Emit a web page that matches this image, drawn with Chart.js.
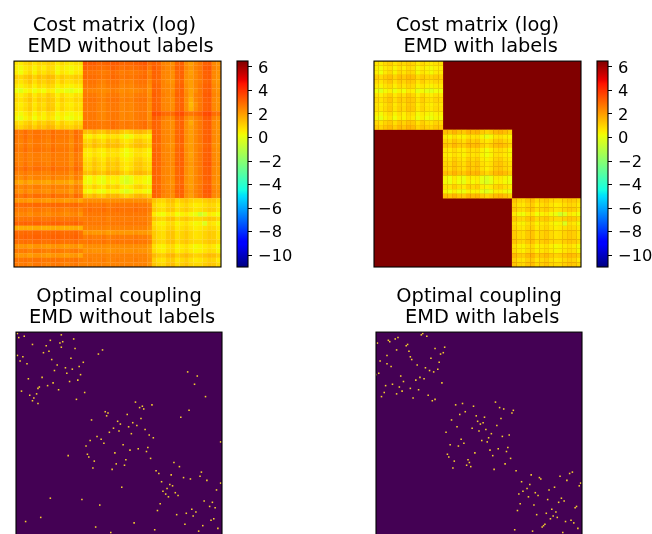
<!DOCTYPE html>
<html><head><meta charset="utf-8">
<script src="https://cdn.jsdelivr.net/npm/chart.js@4"></script>
<style>
html,body{margin:0;padding:0;width:652px;height:534px;overflow:hidden;background:#fff}
canvas{position:absolute}
</style></head><body>
<canvas id="h1" style="left:0;top:0" width="232" height="280"></canvas>
<canvas id="c1" style="left:230px;top:0" width="72" height="280"></canvas>
<canvas id="h2" style="left:360px;top:0" width="232" height="280"></canvas>
<canvas id="c2" style="left:590px;top:0" width="62" height="280"></canvas>
<canvas id="p1" style="left:0;top:271px" width="232" height="280"></canvas>
<canvas id="p2" style="left:360px;top:271px" width="232" height="280"></canvas>
<script>
const titleCostA=['Cost matrix (log) ',' EMD without labels'];
const titleCostB=['Cost matrix (log)',' EMD with labels'];
const titleCoupA=['Optimal coupling',' EMD without labels'];
const titleCoupB=['Optimal coupling',' EMD with labels'];
const colorbarTicks=[-10,-8,-6,-4,-2,0,2,4,6];
const colorRange=[-11,6.5];
const sampleCount=150;
// log cost, tenths, coarse 45x45 grid
const costRows=[
[7,6,9,11,7,10,9,11,10,6,9,7,6,8,8,33,32,32,30,30,31,32,32,30,30,30,31,32,33,29,31,30,25,24,23,30,31,23,20,24,27,31,32,24,22],
[5,3,6,8,4,8,5,9,8,3,6,4,3,5,5,31,30,30,29,28,29,31,30,28,29,28,29,30,31,27,32,30,26,24,24,31,31,24,21,25,27,32,33,25,23],
[5,2,6,9,4,9,7,10,9,3,7,5,3,6,6,29,28,28,27,26,27,29,28,26,27,26,27,28,29,25,31,30,25,24,23,30,31,23,20,24,27,31,32,24,22],
[11,9,12,14,10,14,12,15,14,9,12,10,10,12,11,30,29,29,28,27,28,30,29,27,28,27,28,29,30,26,31,30,25,24,23,30,31,23,21,24,27,31,32,24,22],
[9,7,10,13,8,12,10,13,12,7,11,8,8,10,9,28,28,28,26,25,27,28,28,25,26,25,27,28,28,24,30,29,25,23,22,29,30,22,20,24,26,30,31,23,21],
[6,4,7,9,5,9,7,10,9,4,7,5,4,6,6,27,27,27,25,24,26,27,27,24,25,24,26,27,27,23,31,30,25,24,23,30,31,23,20,24,27,31,32,24,22],
[2,-1,3,5,1,4,2,6,5,0,3,0,-1,2,2,26,25,25,24,23,24,26,25,23,24,23,24,25,26,22,31,30,25,24,23,30,31,23,19,23,27,31,32,24,22],
[7,5,8,11,6,10,8,12,10,5,9,6,5,8,7,27,27,27,25,24,26,27,27,24,25,24,26,27,27,23,32,30,26,24,24,31,31,24,19,25,27,32,33,25,23],
[9,7,10,13,8,12,10,13,12,7,11,8,7,10,9,28,28,28,26,25,27,28,28,25,26,25,27,28,28,24,31,30,25,24,23,30,31,23,17,24,27,31,32,24,22],
[7,5,8,11,6,10,8,12,11,5,9,6,5,8,7,27,27,27,25,24,26,27,27,24,25,24,26,27,27,23,31,30,25,24,23,30,31,23,15,22,27,31,32,24,22],
[8,6,9,12,7,11,9,13,12,6,10,7,6,9,8,27,27,27,25,24,26,27,27,24,25,24,26,27,27,23,31,30,25,24,23,30,31,23,16,23,27,31,32,24,22],
[5,3,6,9,4,8,5,9,8,3,6,4,3,5,5,27,27,27,25,24,26,27,27,24,25,24,26,27,27,23,35,34,30,29,29,34,35,29,27,29,31,35,36,29,28],
[3,0,4,7,2,6,4,8,6,1,5,2,1,4,3,27,27,27,25,24,26,27,27,24,25,24,26,27,27,23,32,30,26,24,24,31,31,24,21,25,27,32,33,25,23],
[9,7,10,12,8,12,10,13,12,7,11,8,7,10,9,29,28,28,27,26,27,29,28,26,27,26,27,28,29,25,31,30,25,24,23,30,31,23,18,24,27,31,32,24,22],
[12,10,13,15,11,15,13,16,15,10,13,11,10,13,12,29,28,28,27,26,27,29,28,26,27,26,27,28,29,25,31,30,25,24,23,30,31,23,20,24,27,31,32,24,22],
[28,26,29,26,28,28,27,26,29,27,27,27,24,29,27,14,13,16,13,12,16,15,16,12,10,12,15,16,14,11,31,30,25,24,23,30,31,23,20,24,27,31,32,24,22],
[28,26,29,26,28,28,27,26,29,27,27,27,24,29,27,6,4,8,5,4,8,7,8,4,0,3,7,8,6,4,31,30,25,24,23,30,31,23,20,24,27,31,32,24,22],
[27,25,28,25,27,27,26,25,28,26,26,26,23,28,26,10,9,13,10,8,13,11,13,8,6,8,12,13,10,8,31,30,25,24,23,30,31,23,20,24,27,31,32,24,22],
[27,25,28,25,27,27,26,25,28,26,26,26,23,28,26,13,11,15,12,11,15,14,15,11,8,11,14,15,13,10,30,29,25,23,22,29,30,22,20,24,26,30,31,23,21],
[28,26,29,26,28,28,27,26,29,27,27,27,24,29,27,7,6,9,6,5,9,8,9,5,2,5,8,9,7,4,31,30,25,24,23,30,31,23,20,24,27,31,32,24,22],
[26,25,27,25,26,26,25,25,27,26,26,26,23,27,25,6,5,8,6,4,8,7,8,4,2,4,8,8,6,4,31,30,25,24,23,30,31,23,19,24,27,31,32,24,22],
[26,25,27,25,26,26,25,25,27,26,26,26,23,27,25,8,7,11,8,6,11,9,11,6,4,6,10,11,8,6,31,30,25,24,23,30,31,23,20,24,27,31,32,24,22],
[27,25,28,25,27,27,26,25,28,26,26,26,23,28,26,10,9,13,10,8,13,11,13,8,6,8,12,13,10,8,32,30,26,24,24,31,31,24,21,25,27,32,33,25,23],
[29,27,30,27,29,29,28,27,30,28,28,28,25,30,28,10,9,13,10,8,13,11,13,8,5,8,12,13,10,8,31,30,25,24,23,30,31,23,20,24,27,31,32,24,22],
[26,25,27,25,26,26,25,25,27,26,26,26,23,27,25,14,13,16,13,12,16,15,16,12,9,12,15,16,14,11,31,30,25,24,23,30,31,23,20,24,27,31,32,24,22],
[25,23,26,23,25,25,24,23,26,24,24,24,21,26,24,4,2,6,3,1,6,5,6,1,-2,1,6,6,4,2,31,30,25,24,23,30,31,23,20,24,27,31,32,24,22],
[20,18,21,18,20,20,19,18,21,19,19,19,16,21,19,3,1,5,2,0,5,3,5,0,-3,0,4,5,3,1,30,29,25,23,22,29,30,22,20,24,26,30,31,23,21],
[26,24,26,24,26,26,24,24,26,25,25,25,22,26,24,8,7,11,8,6,11,9,11,6,4,6,10,11,8,6,31,30,25,24,23,30,31,23,20,24,27,31,32,24,22],
[24,22,25,22,24,24,23,22,25,23,23,23,20,25,23,4,2,5,2,1,5,4,5,1,-2,1,5,5,3,1,32,30,26,24,24,31,31,24,21,25,27,32,33,25,23],
[29,27,30,27,29,29,28,27,30,28,28,28,25,30,28,14,13,16,13,12,16,15,16,12,10,12,15,16,14,11,31,30,25,24,23,30,31,23,20,24,27,31,32,24,22],
[22,21,22,20,22,22,21,20,22,22,21,20,21,22,19,23,23,23,23,23,22,23,23,23,23,23,23,23,23,20,13,10,9,13,14,9,11,13,10,9,9,11,13,12,9],
[30,29,30,29,30,30,29,29,30,30,29,29,29,30,28,27,28,27,27,28,26,27,28,27,27,27,28,27,27,25,10,7,6,10,11,6,8,10,7,5,6,8,10,9,6],
[27,26,27,25,27,27,26,25,27,27,26,25,26,27,25,28,29,28,28,29,27,28,29,28,28,28,29,28,28,26,12,9,8,12,13,8,10,12,9,7,8,10,12,11,7],
[25,24,25,23,25,25,24,23,25,25,24,23,24,25,22,27,27,27,27,27,26,27,27,27,27,27,27,27,27,24,6,3,2,6,7,2,4,6,3,1,-5,-1,6,4,2],
[28,27,28,27,28,28,27,27,28,28,27,27,27,28,26,26,27,26,26,27,25,26,27,26,26,26,27,26,26,24,13,10,9,13,14,9,11,13,10,9,9,11,13,12,9],
[31,30,31,30,31,31,30,30,31,31,30,30,30,31,29,27,27,27,27,27,26,27,27,27,27,27,27,27,27,24,8,5,4,8,9,4,6,8,5,3,4,-2,8,6,3],
[18,17,18,17,18,18,17,17,18,18,17,17,17,18,16,25,25,25,25,25,24,25,25,25,25,25,25,25,25,22,10,7,6,10,11,6,8,10,7,5,6,8,10,9,6],
[30,29,30,29,30,30,29,29,30,30,29,29,29,30,28,21,22,21,21,22,20,21,22,21,21,21,22,21,21,19,12,9,8,12,13,8,10,12,9,7,8,10,12,11,7],
[31,30,31,30,31,31,30,30,31,31,30,30,30,31,29,26,27,26,26,27,25,26,27,26,26,26,27,26,26,24,12,9,8,12,13,8,10,12,9,7,8,10,12,11,7],
[29,28,29,28,29,29,28,28,29,29,28,28,28,29,27,27,28,27,27,28,26,27,28,27,27,27,28,27,27,25,13,10,9,13,14,9,11,13,10,9,9,11,13,12,9],
[22,21,22,20,22,22,21,20,22,22,21,20,21,22,19,23,23,23,23,23,22,23,23,23,23,23,23,23,23,20,8,5,4,8,9,4,6,8,5,3,4,6,8,6,3],
[27,26,27,25,27,27,26,25,27,27,26,25,26,27,25,22,23,22,22,23,21,22,23,22,22,22,23,22,22,20,9,6,5,9,10,5,7,9,6,4,5,7,9,8,4],
[22,21,22,20,22,22,21,20,22,22,21,20,21,22,19,25,25,25,25,25,24,25,25,25,25,25,25,25,25,22,15,12,11,15,16,11,13,15,12,10,11,13,15,14,11],
[28,27,28,27,28,28,27,27,28,28,27,27,27,28,26,25,26,25,25,26,24,25,26,25,25,25,26,25,25,23,11,8,7,11,12,7,9,11,8,6,7,9,11,10,6],
[27,26,27,25,27,27,26,25,27,27,26,25,26,27,25,25,25,25,25,25,24,25,25,25,25,25,25,25,25,22,13,10,9,13,14,9,11,13,10,9,9,11,13,12,9]
];
const blockOfCell=[0,0,0,0,0,0,0,0,0,0,0,0,0,0,0,1,1,1,1,1,1,1,1,1,1,1,1,1,1,1,2,2,2,2,2,2,2,2,2,2,2,2,2,2,2];
const mismatchedLabelCost=6.5;
// matched column for each sample row (row 0 not visible)
const couplingNoLabels=[null,1,33,6,2,42,25,34,32,12,22,33,43,63,24,20,60,1,5,40,26,3,49,8,30,46,36,41,28,125,37,47,132,19,9,45,39,27,130,23,17,16,31,4,50,15,10,138,13,44,12,87,16,99,92,90,93,126,65,67,81,66,120,91,55,74,85,76,88,82,71,94,75,68,84,97,59,100,62,54,149,64,78,51,96,89,83,95,72,52,38,53,98,80,57,115,73,79,119,56,70,102,135,104,113,134,122,127,139,106,149,112,114,77,110,146,107,116,109,118,111,25,48,137,143,105,61,141,145,128,103,131,124,117,129,18,144,142,7,86,123,136,58,147,101,133,69];
const couplingWithLabels=[null,34,33,37,16,14,9,10,1,23,22,50,43,15,24,49,47,8,25,40,26,3,46,8,30,11,36,45,39,42,2,0,18,32,35,29,20,48,12,7,17,25,31,19,6,15,38,4,27,43,41,87,63,58,71,90,93,100,65,99,61,73,79,91,55,74,78,76,88,59,70,80,75,51,84,97,92,82,62,77,81,64,54,60,96,89,83,95,72,52,85,53,98,67,57,68,94,66,69,56,86,102,143,141,113,134,119,120,139,106,149,112,148,130,110,126,107,116,104,118,111,135,125,137,133,105,115,146,145,128,103,131,124,117,129,132,127,142,138,144,123,122,121,147,101,114,136];

function jet(f){
  const seg=(p)=>{for(let i=1;i<p.length;i++){if(f<=p[i][0]){const t=(f-p[i-1][0])/(p[i][0]-p[i-1][0]);return p[i-1][1]+t*(p[i][1]-p[i-1][1]);}}return p[p.length-1][1];};
  const r=seg([[0,0],[.35,0],[.66,1],[.89,1],[1,.5]]);
  const g=seg([[0,0],[.125,0],[.375,1],[.64,1],[.91,0],[1,0]]);
  const b=seg([[0,.5],[.11,1],[.34,1],[.65,0],[1,0]]);
  return `rgb(${Math.round(r*255)},${Math.round(g*255)},${Math.round(b*255)})`;
}
const colorOf=v=>jet(Math.min(1,Math.max(0,(v-colorRange[0])/(colorRange[1]-colorRange[0]))));
const FONT='"DejaVu Sans"';
const framePlugin={id:'frame',afterDraw(c){const a=c.chartArea,x=c.ctx;x.save();x.strokeStyle='#000';x.lineWidth=1.1;x.strokeRect(a.left,a.top,a.right-a.left,a.bottom-a.top);x.restore();}};
const fillPlugin={id:'fill',beforeDatasetsDraw(c,_,o){if(!o.color)return;const a=c.chartArea,x=c.ctx;x.save();x.fillStyle=o.color;x.fillRect(a.left,a.top,a.right-a.left,a.bottom-a.top);x.restore();}};
function titleOpts(text){return {display:true,text,color:'#000',font:{family:FONT,size:19.4,weight:'normal',lineHeight:1.085},padding:{top:15,bottom:4}};}
function heatmap(id,title,keepCell,bg,pad){
  const n=costRows.length,pts=[],cols=[];
  costRows.forEach((row,r)=>row.forEach((v,c)=>{if(!keepCell(r,c))return;pts.push({x:c+.5,y:r+.5});cols.push(colorOf(v/10));}));
  new Chart(document.getElementById(id),{type:'scatter',data:{datasets:[{data:pts,pointStyle:'rect',pointRadius:3.4,pointHoverRadius:3.4,pointBorderWidth:0,pointBackgroundColor:cols}]},
    options:{responsive:false,animation:false,devicePixelRatio:1,layout:{padding:pad},events:[],
      plugins:{legend:{display:false},tooltip:{enabled:false},fill:{color:bg},title:titleOpts(title)},
      scales:{x:{display:false,min:0,max:n},y:{display:false,reverse:true,min:0,max:n}}},plugins:[fillPlugin,framePlugin]});
}
function colorbar(id,width){
  new Chart(document.getElementById(id),{type:'bar',data:{labels:[''],datasets:[{data:[colorRange],barPercentage:1,categoryPercentage:1,borderWidth:0,
      backgroundColor(ctx){const a=ctx.chart.chartArea;if(!a)return '#888';const g=ctx.chart.ctx.createLinearGradient(0,a.bottom,0,a.top);
        [0,.11,.125,.34,.35,.375,.64,.65,.66,.89,.91,1].forEach(s=>g.addColorStop(s,jet(s)));return g;}}]},
    options:{responsive:false,animation:false,devicePixelRatio:1,events:[],layout:{padding:{left:7,right:0,top:61,bottom:13}},
      plugins:{legend:{display:false},tooltip:{enabled:false}},
      scales:{x:{display:false},y:{position:'right',min:colorRange[0],max:colorRange[1],
        afterBuildTicks(s){s.ticks=colorbarTicks.map(v=>({value:v}));},
        afterFit(s){s.width=width;s.paddingTop=0;s.paddingBottom=0;},
        border:{display:false},grid:{drawOnChartArea:false,color:'#000',tickLength:4,lineWidth:1},
        ticks:{color:'#000',padding:6,labelOffset:1.5,font:{family:FONT,size:16.3},callback:v=>String(v).replace('-','\u2212')}}}},plugins:[framePlugin]});
}
function coupling(id,title,colsByRow,pad){
  const pts=[];colsByRow.forEach((c,r)=>{if(c===null)return;pts.push({x:c,y:r});});
  new Chart(document.getElementById(id),{type:'scatter',data:{datasets:[{data:pts,pointStyle:'rect',pointRadius:1.1,pointHoverRadius:1.1,pointBorderWidth:0,pointBackgroundColor:'#f6d02f'}]},
    options:{responsive:false,animation:false,devicePixelRatio:1,layout:{padding:pad},events:[],
      plugins:{legend:{display:false},tooltip:{enabled:false},fill:{color:'#440154'},title:titleOpts(title)},
      scales:{x:{display:false,min:0,max:sampleCount},y:{display:false,reverse:true,min:0,max:sampleCount}}},plugins:[fillPlugin,framePlugin]});
}
heatmap('h1',titleCostA,()=>true,null,{left:14,right:11,top:0,bottom:13});
heatmap('h2',titleCostB,(r,c)=>blockOfCell[r]===blockOfCell[c],colorOf(mismatchedLabelCost),{left:14,right:11,top:0,bottom:13});
colorbar('c1',54);colorbar('c2',44);
coupling('p1',titleCoupA,couplingNoLabels,{left:16,right:10,top:0,bottom:13});
coupling('p2',titleCoupB,couplingWithLabels,{left:16,right:10,top:0,bottom:13});
</script>
</body></html>
